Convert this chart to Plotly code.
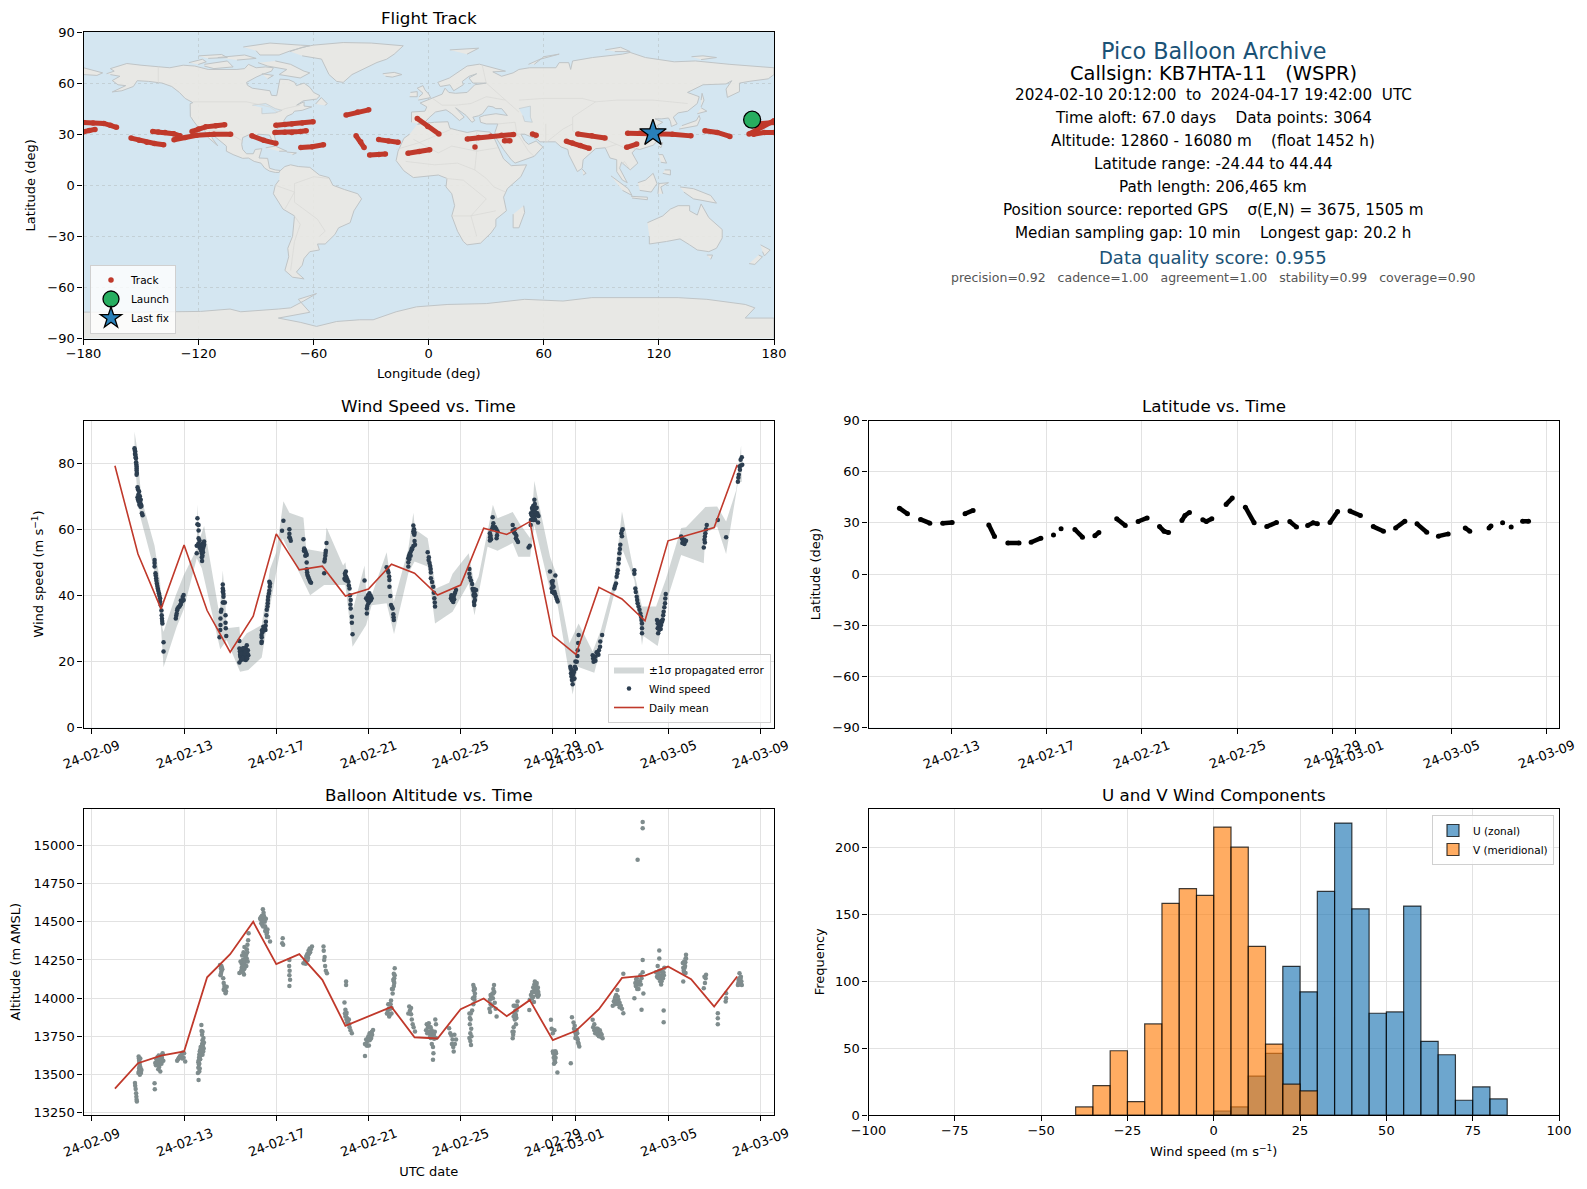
import pandas as pd
import plotly.graph_objects as go

W, H = 1571, 1173  # page body adds 8px around the plot
FONT = "DejaVu Sans"
START = pd.Timestamp("2024-02-09")

# ---- map outlines (lon, lat), read by eye
north_america = [(-168,65.5),(-164,67),(-166,68.5),(-161,70),(-157.4,71.5),(-150,70.5),(-141.8,69.6),(-135,69),(-128,70.5),(-122,70),(-115,68),(-108,68),(-100,68),(-96,68.5),(-94,71),(-90,69),(-85,69.5),(-81,69),(-82,67),(-87,65),(-90,63.5),(-95,60.4),(-94.5,58.7),(-92,57),(-88,56.5),(-82.8,55.5),(-82,52.8),(-79.3,52.6),(-79,54),(-78.4,57.5),(-78,59),(-77.6,62.3),(-73,62),(-70,60.5),(-69,58.5),(-65,60),(-62,57.5),(-60,54.5),(-56.7,52.6),(-58.5,50.6),(-65.4,49.6),(-68.9,47),(-65,49),(-65,46.5),(-61,46),(-66,44),(-70,43.5),(-71,42),(-74,40.5),(-75.5,38),(-76,35),(-78,34),(-81,31.5),(-80,27),(-80.5,25),(-82,27),(-83,29.5),(-85,29.7),(-89,30),(-90,29),(-94,29.5),(-97,28),(-97.5,24),(-97,21),(-95,18.5),(-91.5,18.5),(-90.5,21),(-87,21.5),(-88,18),(-88.5,16),(-84,15.8),(-83.5,12),(-83,10),(-80,9),(-77.5,8.7),(-78,7.5),(-80,7.5),(-83,8.3),(-85.5,10),(-87.5,13),(-91,14),(-94,16),(-97,15.8),(-102,18),(-105.5,20),(-105.5,23),(-109,26),(-112,29),(-114.5,31.5),(-112.5,27),(-110,23.2),(-112,25),(-115,28),(-117,32.5),(-120.5,34.5),(-122.5,37.5),(-124.3,40.5),(-124.4,47.9),(-123,48.5),(-127,51),(-130,54.5),(-134,58),(-139,60),(-146,61),(-152,61.4),(-154,58),(-160,55.5),(-165,54.8),(-158,58.5),(-162,59),(-165,61.5),(-161,64),(-166,65)]
baffin = [(-80,73),(-72,71),(-65,67),(-62,66),(-67,63),(-72,64),(-78,65),(-74,68),(-84,70),(-89,72)]
victoria = [(-117,71),(-105,73),(-102,69.5),(-112,68.5),(-117,70)]
banks = [(-125,72),(-118,74),(-116,72.5),(-120,71)]
ellesmere = [(-96.7,81.2),(-82.8,83.5),(-67,82.3),(-62,82),(-72,79),(-78,76.5),(-88,76.5),(-90,79)]
devon = [(-110,75),(-96,76.5),(-90,74.5),(-100,73.5)]
melville = [(-120,76),(-108,76.8),(-105,75),(-115,74.5)]
southampton = [(-87,65.5),(-81,64.5),(-84,62.5)]
newfoundland = [(-59,47.7),(-56,51.5),(-53,48),(-54,46.8)]
greenland = [(-72.4,78.5),(-66,81),(-60,82.3),(-44.6,83.8),(-30,83.5),(-13.3,81.9),(-18,77),(-22,74),(-27,72.1),(-32.4,69.2),(-40,65),(-44.6,60.4),(-48,61),(-52,65),(-54,70),(-55.9,74.1),(-66,76)]
south_america = [(-77.5,8.5),(-75,11),(-72,12),(-68,11),(-62,10.5),(-57,6),(-52,4.5),(-50,0),(-44,-2.5),(-37,-5),(-35,-8),(-39,-15),(-41,-22),(-47,-25),(-49,-29),(-54,-34.5),(-58,-34.5),(-57,-38),(-62,-39),(-65,-43),(-66,-47),(-69,-51),(-65,-55),(-71,-54),(-75,-50),(-73,-42),(-73.5,-37),(-71,-30),(-70,-18),(-76,-14),(-81,-5),(-80,0),(-78,3)]
africa = [(-6,35.8),(3,37),(10,37.3),(11,33.5),(15,32.3),(20,31),(25,32),(32,31.2),(34,28),(37,21),(39,15.5),(43,11.5),(51,12),(48,5),(41,-2),(39,-7),(40.5,-15),(35,-20),(35,-24),(32.5,-28),(27,-34),(20,-35),(18,-33),(15,-27),(12,-18),(13.5,-12),(12,-5),(9,-1),(9.5,4),(5,6),(-4,5),(-8,4.5),(-13,8.5),(-17,14.5),(-16,20),(-13,27.5),(-10,30)]
eurasia = [(-9,37),(-9,43),(-2,43.5),(-1,46),(-4.5,48.3),(2,51),(7,53.5),(8.5,57),(10.5,54.5),(14,54),(20,54.5),(24,59),(30,60),(23,60),(21,63),(25,65.5),(21,64),(17.5,61),(18,59),(13,55.5),(11,59),(6,58),(4.7,60.4),(10.8,63),(20,70),(26.4,71.1),(40,67),(33.4,66.6),(38,64),(44,66),(47,68),(52.5,69),(66.3,69),(68,72),(73,72),(74,68),(75,73),(85.4,75),(101,77),(105,78),(113,75),(128,72.5),(139,73),(157,71),(170,70),(180,69),(180,65),(177,62.5),(167,61),(162,60),(162,55),(155.7,51.6),(155,56.5),(158,61.4),(155,59.5),(143,59),(134.9,54.5),(141,52),(140,48),(135,43.5),(130,42.5),(127.5,40),(129.5,36),(126.5,34.5),(126,37.5),(125,39.5),(121.5,39),(118,39),(122,37),(119,35),(122,31),(121,28),(117,23.5),(110,21),(108,21.5),(106,19),(109,13),(105,9),(103,11),(100.5,13.5),(99.5,10),(103.5,1.5),(101,3),(98,8),(98,15),(94.5,16),(92,22),(87,21.5),(80.5,15),(80,10),(77.5,8),(73,18),(72.5,21),(69,22.5),(66,25.5),(58,25.5),(56.5,27),(50,30),(48,30),(50,26),(52,24),(56,26),(59.5,22.5),(55,17),(45,13),(43,15),(39,21),(35,28),(34.5,31),(36,36),(30,36),(27,37),(26.5,40),(29,41),(35,42),(41,41),(38,45),(35,45),(33.5,46),(31,46.5),(28,42),(26,40.8),(23,40),(24,38),(22.5,37),(19.5,41),(14,45.5),(18.5,40),(16,38),(12,42),(9,44.3),(3.5,43),(0,39.5),(-2,37),(-5.5,36)]
chukotka = [(-180,69),(-175,67.5),(-170,66),(-173,64.5),(-180,65)]
uk = [(-5.5,50),(1,51.5),(0,53.5),(-2,56),(-3,58.5),(-6,57),(-3,54),(-5,52)]
ireland = [(-10,52),(-6,52),(-6,55),(-9.5,54.5)]
iceland = [(-24,65.5),(-18,66.3),(-14,65),(-19,63.5),(-22.5,64)]
svalbard = [(11,79.5),(26,80.5),(20,77)]
novaya = [(52,71),(58,74),(68,77),(60,75.5),(55,71)]
severnaya = [(92,79.5),(100,81),(105,78.5),(97,78.5)]
new_siberian = [(137,75.5),(143,76),(150,75),(142,73.8)]
honshu = [(130.5,33),(135,34),(140,35),(141.5,39),(141,41),(139.5,38),(136,36.5),(132,35)]
hokkaido = [(140,42),(145,43.5),(142,45.5)]
sakhalin = [(142,46),(143.5,50),(142.5,54),(142,50)]
taiwan = [(120,23),(121,22),(122,25),(121,25)]
luzon = [(120,18),(122,18),(124,13),(121,13.5)]
mindanao = [(122,7),(126,6),(126,9),(123,9)]
borneo = [(109,1.5),(113,3),(117,7),(119,1),(116,-4),(110,-3)]
sumatra = [(95,5.5),(104,-2),(106,-6),(101,-3)]
java = [(105.5,-6.5),(114,-7),(114,-8.5),(106,-7.5)]
sulawesi = [(119.5,-5),(120,1),(125,1.5),(121,-1),(122,-5)]
new_guinea = [(131,-1),(138,-2),(147,-6),(150,-10.5),(143,-9),(138,-8),(133,-4)]
australia = [(114,-22),(122,-18),(126,-14),(130,-12),(136,-12),(136,-15),(140,-17.5),(142,-11),(146,-19),(153,-26),(153,-31),(150,-37),(146,-39),(140,-38),(136,-35),(131,-31.5),(124,-33),(115,-34.5),(115,-30)]
tasmania = [(145,-41),(148,-41),(147,-43.5)]
nz_north = [(173,-35),(178,-38),(175,-41.5),(174,-39)]
nz_south = [(172,-41),(174,-42),(170,-46.5),(167,-46)]
madagascar = [(49.5,-12),(50,-16),(47,-25),(44,-25),(44,-17)]
sri_lanka = [(80,9.5),(82,7),(80.5,6)]
cuba = [(-85,22),(-80,23),(-74,20),(-78,20)]
hispaniola = [(-74,19.5),(-69,19),(-71,18)]
antarctica = [(-180,-90),(-180,-74.5),(-150,-74.5),(-128,-74),(-119,-74.1),(-103.6,-72.7),(-98,-74.3),(-78.4,-72.7),(-72,-72),(-65.4,-68.1),(-58.5,-63.6),(-68,-67),(-62,-74.6),(-78.4,-78),(-67,-80.5),(-58.5,-82.9),(-48,-80),(-36,-79),(-29,-79),(-17,-74.3),(-6.4,-71.4),(10,-70),(30,-69.5),(50,-67),(70,-68),(85,-66),(110,-66),(130,-66),(145,-67),(165,-70),(170,-72),(165,-78),(180,-78),(180,-90)]
land = [north_america, baffin, victoria, banks, ellesmere, devon, melville, southampton, newfoundland, greenland, south_america, africa, eurasia, chukotka, uk, ireland, iceland, svalbard, novaya, severnaya, new_siberian, honshu, hokkaido, sakhalin, taiwan, luzon, mindanao, borneo, sumatra, java, sulawesi, new_guinea, australia, tasmania, nz_north, nz_south, madagascar, sri_lanka, cuba, hispaniola, antarctica]

caspian = [(47,45),(53,46.5),(53,40),(54,37),(50,37.5),(49,41)]
great_lakes = [(-92,47),(-85,48),(-80,45),(-76.5,44),(-80,42.5),(-84,42),(-87,42),(-87,45.5)]
lakes = [caspian, great_lakes]

borders = [
    [(-141,69.7),(-141,60)], [(-123,49),(-95,49),(-83,46),(-79,43),(-75,45),(-67,47)],
    [(-117,32.5),(-106,31.7),(-97,26)], [(-70,-18),(-67,-23),(-70,-33),(-72,-50)],
    [(-52,4),(-60,5),(-70,1),(-70,-10),(-58,-20),(-54,-27),(-57,-30)], [(-80,0),(-70,-4),(-75,-14)],
    [(-8,27),(5,19),(12,23),(25,20),(36,22)], [(25,32),(25,20),(24,9),(30,4),(34,-1),(40,-4)],
    [(-17,21),(-5,25),(12,33)], [(-12,14),(3,12),(15,13),(24,9)], [(9,4),(18,3),(30,-8),(22,-18),(25,-30)],
    [(12,-18),(22,-18),(35,-15)], [(2,51),(7,47),(14,47),(22,48),(30,52),(40,50),(47,43)],
    [(28,70),(30,60),(40,50)], [(47,50),(60,51),(80,51),(87,49),(98,50),(117,50),(135,48)],
    [(87,49),(75,40),(75,32),(80,29),(92,27),(98,24),(102,22),(108,21.5)], [(61,36),(61,25),(70,33),(75,36)],
    [(36,36),(45,37),(46,30),(48,30)], [(35,30),(47,29),(52,20),(55,17)], [(98,24),(92,22)], [(99,10),(102,14),(105,9)],
]

# ---- flight track streaks (lon, lat)
track_streaks = [
    [(-180,36.9),(-175,36.6),(-169.4,36.3),(-166,35.2),(-162.8,34)],
    [(-180,31.4),(-177,32.2),(-174,32.8)],
    [(-155.2,27.7),(-151,26.4),(-147,25.2),(-143,24.5),(-138.2,23.8)],
    [(-143.9,31.6),(-141,31.3),(-137.5,31),(-133,30.2),(-129.7,29)],
    [(-132.8,26.7),(-127,28),(-121,29.4),(-112,29.9),(-103.3,30)],
    [(-123.4,31.6),(-120,33),(-116.3,34.3),(-111,35),(-106.4,35.5)],
    [(-92.2,29),(-86,26.4),(-79.7,24.6)],
    [(-80.2,31),(-75,31.1),(-71.4,31),(-67,31.6),(-63.9,32)],
    [(-79.7,35.3),(-75,35.7),(-71.4,35.9),(-66,36.5),(-60.3,37.3)],
    [(-66.7,22.2),(-60.8,22.6),(-54.9,23.8)],
    [(-43.1,41.2),(-37,43),(-31.3,44.3)],
    [(-37.9,29),(-35.5,25.5),(-33.7,22.2)],
    [(-30.8,17.8),(-26,18),(-22.6,18.4)],
    [(-26.1,26.8),(-21,26),(-16,25.2)],
    [(-10.8,18.8),(-5,19.8),(0.5,20.9)],
    [(-6,39.2),(-0.5,34.5),(5.3,30.1)],
    [(20.1,27.2),(26,28),(32.4,28.8),(38,29.3),(44.2,29.8)],
    [(24.1,22.4)],
    [(39.5,26.2),(42.3,26.2)],
    [(54.1,30.1),(56,29.3)],
    [(71.8,25.8),(74.9,24.8),(79,23.3),(83.6,21.7)],
    [(77.7,30.1),(85,29),(91.9,27.7)],
    [(103.2,22.3),(108.4,24.2)],
    [(103.7,30.6),(110,30.6),(117.4,30.4),(127,30),(136.7,29)],
    [(144,32),(150.4,31),(157,28.7)],
    [(167,30.1),(173,34),(180,37.9)],
    [(171.6,36),(180,36.9)],
    [(169.3,30),(175,31),(180,31)],
]
launch_lon, launch_lat = [168.6], [38.5]
last_lon, last_lat = [116.9], [30.6]

# ---- daily means, one per UTC day from 2024-02-10
mean_dates = pd.date_range("2024-02-10", "2024-03-08").strftime("%Y-%m-%d").tolist()
mean_wind = [79.2, 52.5, 35.9, 55.2, 35.4, 22.8, 33.7, 58.6, 47.7, 48.8, 39.8, 41.9, 49.4, 46.7, 40.1, 43.1, 60.3, 58.4, 62.3, 27.8, 22.1, 42.4, 38.9, 32.3, 56.5, 58.6, 60.5, 79.5]
mean_alt = [13408, 13574, 13624, 13651, 14137, 14288, 14500, 14223, 14288, 14120, 13819, 13880, 13943, 13744, 13736, 13928, 13998, 13882, 13987, 13725, 13786, 13928, 14133, 14148, 14207, 14124, 13945, 14142]

# ---- wind speed samples (days after 02-09, m/s)
wind_points = [
    (1.85,84.5),(1.86,84),(1.88,83.5),(1.87,82.8),(1.89,82.5),(1.9,81.8),(1.91,81.5),(1.92,80.3),(1.93,79.6),(1.94,79),(1.94,78.4),(1.94,77.8),(1.95,77),(1.94,76.5),
    (1.98,72.7),(2.0,72),(2.05,71.4),(1.98,69.7),(2.0,69),(2.05,69.4),(2.08,70),(2.12,68.9),(2.1,67.9),(2.07,68.2),(2.13,67.4),(2.15,67),(2.17,64.8),(2.2,64.2),
    (2.72,50.7),(2.72,49.8),(2.72,48.7),(2.76,46.7),(2.77,46),(2.79,45.2),(2.8,44.4),(2.82,43.6),(2.84,42.8),(2.86,42.1),(2.88,41.4),(2.91,40.6),(2.93,39.9),(2.96,39.1),(2.96,38.1),(2.99,37),(3.02,35.4),(3.03,34),(3.04,33),(3.05,32.2),(3.06,31.5),(3.11,25.8),(3.11,23),
    (3.64,33),(3.66,33.8),(3.68,34.5),(3.7,35.5),(3.72,36),(3.76,36.4),(3.8,36.6),(3.83,37),(3.86,37.4),(3.86,38.4),(3.9,38.1),(3.95,38.4),(3.98,38.6),(3.98,40.1),(3.94,39.5),
    (4.58,63.3),(4.58,61.5),(4.63,61.3),(4.63,59.6),(4.63,57.3),(4.67,56.6),(4.55,55),(4.65,55),(4.7,55.3),(4.77,54.5),(4.8,55.6),(4.87,56.3),(4.87,55.3),(4.83,54.4),(4.81,53.7),(4.77,52.7),(4.74,53.5),(4.55,52.7),(4.77,51.5),(4.8,52),
    (5.68,43.3),(5.68,42.1),(5.7,41.4),(5.68,41.1),(5.71,40.4),(5.71,39.6),(5.68,37.8),(5.77,37.8),(5.72,37.8),(5.62,35.6),(5.6,35),(5.8,34),(5.58,33),(5.8,31.7),(5.58,31),(5.81,30),(5.57,29.5),(5.83,27.7),(5.54,27.3),
    (6.4,26.2),(6.4,23.9),(6.42,23),(6.46,22.4),(6.4,19.7),(6.5,20.9),(6.44,21.4),(6.55,22),(6.65,21.4),(6.58,23.2),(6.72,24.9),(6.68,24),(6.77,23.4),(6.7,22.6),(6.79,21.9),(6.68,20.4),(6.6,20.6),(6.47,20.4),(6.52,23.4),(6.75,22.4),
    (7.37,26),(7.37,27.3),(7.36,28),(7.4,28.8),(7.43,29.5),(7.48,29.8),(7.53,29.5),(7.54,30.8),(7.55,32),(7.57,34),(7.59,35.6),(7.62,36.6),(7.63,37.6),(7.64,38.6),(7.65,39.6),(7.68,40.5),(7.7,41.4),(7.73,43.6),(7.7,44.1),(7.72,42.6),
    (8.31,62.6),(8.25,59.5),(8.57,60),(8.57,58.6),(8.57,57.6),(8.6,57.3),(8.63,56.5),
    (9.18,57),(9.21,54.2),(9.24,53.7),(9.27,53.2),(9.3,52.6),(9.32,52.2),(9.32,49.9),(9.32,47.9),(9.34,47),(9.35,46.2),(9.38,45.7),(9.41,45.2),(9.44,44.6),(9.47,44.1),(9.51,43.8),
    (10.18,55.8),(10.15,53.5),(10.14,52.8),(10.13,52),(10.11,51),(10.09,50.2),(10.08,46.7),
    (11.02,47.2),(11.0,46),(11.03,45.6),(11.06,45.2),(11.09,44.6),(10.96,45),(11.13,44.1),(11.15,43),(11.18,42.1),(11.2,40),(11.23,38.6),(11.22,37.2),(11.23,36),(11.28,33.5),(11.28,31.7),(11.31,28.2),
    (11.83,44.5),(11.9,39.1),(11.98,40),(12.04,40.6),(12.1,39.8),(12.14,39.1),(12.05,38.2),(12.0,37.6),(11.95,36.8),(11.93,36),(11.93,34.5),(12.08,38.6),
    (12.79,48.5),(12.84,47.6),(12.87,46.9),(12.9,45.7),(12.91,44.6),(12.91,42.6),(12.95,39.8),(12.98,37.1),(13.02,36.5),(13.05,36),(13.08,34.3),(13.09,33.4),(13.1,32.5),
    (13.95,61.1),(13.95,59.3),(13.97,58.8),(13.99,58.3),(14.02,55.3),(14.0,56.4),(13.95,54.9),(13.88,54.2),(13.85,53.4),(13.8,52.7),(13.76,52),(13.73,51.2),(13.73,50),(13.73,48.7),
    (14.57,53),(14.61,50.7),(14.65,49.8),(14.68,48.9),(14.7,48),(14.71,46.9),(14.71,45.2),(14.76,44),(14.81,42.6),(14.84,40.8),(14.86,39.1),(14.89,36.6),(14.88,37.8),
    (15.58,39.1),(15.62,38.6),(15.65,38.4),(15.68,39.4),(15.72,40.1),(15.76,40.8),(15.8,41.6),
    (16.38,48),(16.38,46.5),(16.4,45.4),(16.45,44.5),(16.5,43.4),(16.52,42),(16.6,41.8),(16.67,41.6),(16.56,40.1),(16.6,39.6),(16.62,38.6),(16.59,37.1),
    (17.39,63.6),(17.42,61.8),(17.4,60.8),(17.27,58.8),(17.28,57.6),(17.27,56.6),(17.5,60.6),(17.55,60),(17.6,59.3),(17.56,57.3),
    (18.26,61.3),(18.26,59.6),(18.32,59),(18.37,58.6),(18.4,57.3),(18.45,56.7),(18.49,56.1),
    (18.95,54.5),(19.0,55),(19.2,68.9),(19.22,67.6),(19.15,67),(19.2,66.8),(19.12,65.8),(19.05,64.8),(19.3,66.5),(19.33,64.8),(19.38,64),(19.25,65),(19.1,66.4),(19.04,61.3),(19.05,62.8),(19.36,62),
    (19.88,47.2),(20.11,46),(19.95,44.1),(19.98,43.4),(19.95,42.1),(20.03,42.6),(20.07,41.1),(20.1,40.4),(20.14,39.6),(20.18,38.8),(20.21,38.1),
    (20.76,18.4),(20.96,18.4),(20.79,16.4),(20.81,15.4),(20.83,14.4),(20.86,13.1),(20.9,14.6),(20.85,17),(20.98,20),(21.0,17.8),(21.04,19.9),(21.07,21.6),(21.08,23.4),(21.1,25.6),(21.12,28),
    (21.73,21.9),(21.75,20.9),(21.77,19.9),(21.85,21.4),(21.95,22.4),(22.0,23.4),(22.05,24.4),(22.06,26),(22.14,28),
    (22.67,42.1),(22.7,42.8),(22.74,43.6),(22.77,45.6),(22.8,46.6),(22.82,47.6),(22.85,49.6),(22.87,51),(22.89,52.7),(22.91,54),(22.93,55.3),(22.97,58.8),(23.0,59.6),(23.03,60),(23.0,57.9),
    (23.54,47.6),(23.54,46.5),(23.58,42.1),(23.6,41),(23.64,39.6),(23.66,38.6),(23.68,37.6),(23.72,36.6),(23.76,35.6),(23.8,34.5),(23.83,33.5),(23.85,32.5),(23.87,31.5),(23.87,30),(23.87,28.5),
    (24.52,32.5),(24.55,31.5),(24.6,30.5),(24.57,28.5),(24.65,30.8),(24.7,31),(24.74,32),(24.77,32.7),(24.79,34),(24.81,35),(24.84,36.4),(24.87,37.6),(24.88,39),(24.9,40.4),
    (25.57,57.8),(25.6,57.2),(25.64,56.8),(25.67,56),(25.71,55.5),(25.74,56.2),(25.78,56.5),
    (26.55,54.5),(26.58,56.8),(26.6,57.8),(26.62,58.8),(26.65,60),(26.68,61.3),(27.16,62.8),(27.52,57.6),
    (28.03,74.4),(28.05,75.6),(28.07,76.5),(28.1,79),(28.15,79.2),(28.2,81.8),(28.22,79.5),
    # thicker parts of the clumps
    (2.02,70.5),(2.06,67.4),(2.11,66.8),(2.03,68.4),(4.68,54.4),(4.72,54),(4.75,55.2),(4.85,55),(4.62,55.6),(4.78,50.4),(4.82,53),
    (6.48,23),(6.43,22),(6.5,22.4),(6.55,20.8),(6.62,22.4),(6.6,24),(6.65,23),(6.72,21),(6.74,20.9),(6.45,23.6),(6.56,24),
    (7.44,30.5),(7.38,29.4),(7.5,30),(7.36,25.6),(9.2,53.5),(9.26,52),(10.98,46.6),(11.04,44.5),(11.0,44.6),(11.96,38.5),(12.02,39),(12.06,39.7),(12.1,38.5),
    (13.9,54),(13.83,52),(13.78,51),(13.98,60),(14.0,59),(14.62,51.5),(15.62,39.6),(15.68,38),(15.72,38.8),(15.6,40),
    (16.55,41.4),(16.6,40.6),(16.64,40),(16.58,38),(17.35,60),(17.3,58),(17.32,57),(17.58,58.2),(18.35,60),(18.42,58),
    (19.12,64.8),(19.15,65.2),(19.18,64.3),(19.22,65.3),(19.26,66.3),(19.28,64.2),(19.2,63.5),(19.16,62.8),(19.24,62.8),(19.12,63.2),(19.08,64.2),
    (20.0,44.3),(20.0,42.6),(19.97,41),(20.05,40.6),(20.82,17.4),(20.88,16),(20.92,16.8),(20.78,17.8),(20.94,14.8),
    (21.8,21.5),(21.9,22.8),(21.85,20.2),(21.98,22),(24.55,30),(24.62,29.6),(24.68,29.8),(24.72,32.2),(24.6,32),(25.62,55.8),(25.7,56.8),(26.6,56),(28.15,81),(28.12,78),
]

# ---- +/- 1 sigma band edges (days after 02-09, m/s)
band_upper = [(1.85,89.5),(1.95,85),(2.1,73),(2.2,68),(2.72,55),(2.96,44),(3.06,30),(3.11,29),(3.64,40),(3.9,45),(3.98,46),(4.55,54),(4.58,67.5),(4.67,57),(4.87,61),(5.54,34),(5.68,47.5),(5.8,37),(5.85,30),(6.4,30.5),(6.45,26),(6.72,28.5),(7.37,31),(7.73,48),(8.0,53),(8.31,68.5),(8.57,65),(9.18,63.5),(9.3,54),(10.1,53),(10.18,60.5),(10.9,49),(11.0,50),(11.3,35),(11.83,49),(11.93,38),(12.14,40),(12.79,53),(12.95,45),(13.1,38),(13.73,54),(13.95,65),(14.02,60),(14.57,57.3),(14.93,42.1),(15.5,43.8),(15.65,46.5),(16.35,52.7),(16.6,43.1),(16.78,45.7),(17.4,67.4),(17.6,63.3),(18.26,65.2),(18.55,61.8),(19.02,57.3),(19.2,74.6),(19.42,66.9),(19.88,51.7),(20.14,46.7),(20.72,25.5),(21.12,31.5),(21.73,23),(22.09,29.6),(22.67,44.6),(23,65.4),(23.47,48.7),(23.87,36.6),(24.48,36.6),(24.9,44.8),(25.57,60.4),(25.78,60.6),(26.62,66.7),(27.13,66.9),(27.52,62.3),(27.96,71.9),(28.17,85.3)]
band_lower = [(1.85,82),(1.95,73),(2.1,63.8),(2.67,48.7),(2.96,34.5),(3.11,18.2),(3.68,30.5),(3.98,35.6),(4.55,51.2),(4.77,48.2),(5.57,23.7),(5.85,26.5),(6.43,16.9),(6.79,17.4),(7.37,21.2),(7.73,36.6),(8.02,47.7),(8.28,57.3),(9.47,40),(10.08,43.1),(11,43.1),(11.31,24.4),(11.9,31),(12.14,37),(12.79,37.6),(13.11,28.3),(13.73,46.7),(14,50.2),(14.57,48.7),(14.89,31.5),(15.65,35),(16.35,43.6),(16.6,34),(17.17,54.7),(17.6,53.5),(18.26,55.8),(18.5,51.7),(19.02,51.7),(19.2,61.3),(19.88,41.6),(20.21,37),(20.86,10),(21.08,18.4),(21.8,16.6),(22.09,24.4),(22.67,40.6),(23.03,53.7),(23.54,44.6),(23.87,24.9),(23.93,27.7),(24.55,24.7),(25,39.6),(25.57,52.2),(26.55,49.7),(26.62,58.8),(27.13,60.8),(27.52,52.5),(28.03,74),(28.2,74.4)]

# ---- latitude streaks (days after 02-09, deg)
lat_streaks = [
    [(1.8,38.6),(2.14,35.3)],[(2.69,32),(3.08,29.8)],[(3.62,29.8),(4.02,30.2)],[(4.56,35.3),(4.9,37.3)],
    [(5.56,28.8),(5.8,22)],[(6.36,18.2),(6.83,18.2)],[(7.34,18.6),(7.75,21)],[(8.28,22.9)],[(8.6,26.5)],
    [(9.18,26.1),(9.5,21.6)],[(10.02,22.4),(10.19,24.3)],[(10.94,32.4),(11.3,28.4)],[(11.84,30.8),(12.22,32.9)],
    [(12.74,27.8),(12.93,25.1),(13.12,24.3)],[(13.68,31.4),(13.81,34.3),(14,36.1)],[(14.56,31.8),(14.71,30.8),(14.94,32.4)],
    [(15.54,40.8),(15.8,44.5)],[(16.35,39.2),(16.72,30)],[(17.25,27.8),(17.66,30.2)],[(18.22,30.8),(18.5,27.5)],
    [(18.97,28.4),(19.2,30),(19.38,29.4)],[(19.91,30.2),(20.23,36.7)],[(20.75,36.9),(21.19,34.3)],[(21.73,27.8),(22.16,25.1)],
    [(22.67,27),(23.06,31)],[(23.57,29.4),(23.98,24.5)],[(24.47,22.2),(24.88,23.5)],[(25.6,26.9),(25.79,25.1)],
    [(26.6,27),(26.68,28.2)],[(27.17,30)],[(27.53,27.5)],[(28.01,31),(28.26,31)],
]

# ---- altitude samples (days after 02-09, m)
alt_points = [
    (1.87,13445),(1.88,13426),(1.9,13405),(1.92,13378),(1.93,13355),(1.94,13335),(1.95,13323),(2.03,13618),(2.05,13590),(2.07,13565),(2.05,13540),(2.1,13550),(2.12,13520),(2.02,13510),(2.08,13498),(2.15,13530),(2.04,13605),(2.06,13575),
    (2.72,13443),(2.73,13404),(2.75,13575),(2.78,13560),(2.8,13600),(2.85,13615),(2.9,13625),(2.95,13590),(3.0,13600),(3.05,13630),(3.07,13640),(2.92,13550),(2.97,13520),(2.88,13535),(3.02,13570),(3.1,13590),(2.83,13580),(2.93,13605),
    (3.7,13590),(3.74,13600),(3.78,13610),(3.82,13620),(3.86,13625),(3.9,13630),(3.95,13645),(4.0,13640),(4.05,13585),(3.98,13610),(3.92,13605),
    (4.63,13465),(4.6,13510),(4.62,13545),(4.64,13565),(4.63,13590),(4.65,13610),(4.66,13630),(4.68,13650),(4.7,13660),(4.72,13680),(4.8,13630),(4.83,13650),(4.85,13670),(4.78,13700),(4.8,13725),(4.84,13740),(4.78,13760),(4.76,13785),(4.75,13825),
    (5.56,14218),(5.6,14195),(5.62,14175),(5.66,14190),(5.58,14150),(5.7,14130),(5.72,14100),(5.75,14080),(5.78,14060),(5.8,14033),(5.85,14075),(5.72,14055),
    (6.4,14165),(6.5,14225),(6.55,14250),(6.6,14230),(6.65,14270),(6.7,14290),(6.72,14320),(6.75,14350),(6.8,14425),(6.78,14380),(6.52,14280),(6.58,14300),(6.62,14335),(6.68,14240),(6.6,14155),(6.5,14200),(6.45,14240),(6.7,14210),
    (7.3,14520),(7.35,14490),(7.38,14540),(7.42,14583),(7.45,14560),(7.48,14530),(7.5,14500),(7.52,14470),(7.56,14450),(7.6,14430),(7.65,14400),(7.73,14371),(7.55,14520),(7.4,14510),(7.62,14450),
    (8.28,14393),(8.26,14360),(8.3,14349),(8.57,14250),(8.56,14210),(8.58,14180),(8.57,14150),(8.6,14120),(8.57,14080),
    (9.18,14229),(9.25,14250),(9.3,14270),(9.35,14290),(9.4,14310),(9.45,14325),(9.55,14338),(9.38,14265),(9.3,14240),
    (10.05,14338),(10.06,14310),(10.1,14270),(10.08,14250),(10.12,14210),(10.15,14180),(10.2,14164),
    (11.03,14109),(11.03,14087),(10.96,13971),(11.0,13925),(11.03,13895),(11.07,13870),(11.1,13850),(11.13,13830),(11.18,13810),(11.28,13770),(11.05,13905),(11.15,13860),(11.22,13790),
    (11.85,13622),(11.85,13700),(11.9,13730),(11.95,13720),(12.0,13750),(12.05,13770),(12.1,13760),(12.15,13780),(12.2,13792),(11.92,13690),(12.02,13690),
    (12.8,13900),(12.84,13920),(12.9,13880),(12.86,13960),(12.94,13930),(12.98,13985),(13.05,14030),(13.02,14060),(13.1,14080),(13.1,14110),(13.12,14130),(13.1,14160),(13.14,14196),(13.0,13900),
    (13.73,13900),(13.77,13945),(13.8,13920),(13.85,13895),(13.88,13860),(13.92,13830),(13.96,13810),(14.02,13782),(13.85,13935),
    (14.5,13790),(14.53,13830),(14.58,13810),(14.62,13836),(14.65,13770),(14.7,13740),(14.72,13760),(14.75,13700),(14.78,13750),(14.8,13680),(14.82,13640),(14.8,13596),(14.85,13735),(14.93,13740),(14.55,13770),(14.6,13780),(14.7,13780),(14.9,13860),(14.93,13830),
    (15.5,13803),(15.55,13770),(15.6,13755),(15.65,13730),(15.62,13700),(15.68,13680),(15.7,13650),(15.75,13700),(15.8,13730),(15.73,13760),
    (16.38,13900),(16.4,13830),(16.42,13770),(16.38,13740),(16.45,13694),(16.46,13800),(16.43,13860),(16.5,13920),(16.55,14087),(16.57,14050),(16.6,14010),(16.55,13960),(16.6,13990),(16.62,14030),
    (17.25,13930),(17.27,13990),(17.32,14010),(17.38,14030),(17.42,14060),(17.45,14087),(17.4,14000),(17.48,13970),(17.52,13930),(17.56,13880),(17.3,13960),
    (18.26,13738),(18.25,13780),(18.3,13810),(18.35,13860),(18.4,13890),(18.43,13920),(18.47,13978),(18.36,13950),(18.3,13950),(18.4,13830),
    (18.98,13923),(19.0,13990),(19.05,14020),(19.1,14000),(19.15,14040),(19.2,14060),(19.22,14109),(19.28,14090),(19.33,14060),(19.37,14040),(19.39,14020),(19.3,14020),(19.18,13975),
    (19.92,13858),(19.95,13800),(20.0,13770),(20.07,13790),(20.0,13650),(20.07,13630),(20.12,13610),(20.08,13590),(20.14,13640),(20.05,13570),(20.2,13513),
    (20.78,13574),(20.83,13875),(20.9,13840),(20.92,13800),(20.95,13780),(21.0,13760),(21.05,13740),(21.1,13710),(21.15,13683),(21.03,13790),
    (21.73,13858),(21.75,13810),(21.8,13790),(21.85,13800),(21.9,13770),(21.95,13800),(22.0,13780),(22.05,13760),(22.1,13745),(22.16,13738),
    (22.6,13950),(22.65,13980),(22.7,14000),(22.75,14020),(22.8,14054),(22.85,13990),(22.9,13970),(22.95,13950),(23.0,13930),(23.06,13902),(23.06,14160),
    (23.54,14000),(23.58,14100),(23.62,14120),(23.68,14090),(23.72,14060),(23.78,14110),(23.85,14130),(23.9,14170),(23.9,14250),(23.93,14030),(23.85,13925),(23.68,14906),(23.9,15153),(23.9,15113),
    (24.48,14170),(24.52,14140),(24.58,14130),(24.62,14180),(24.66,14110),(24.7,14090),(24.75,14130),(24.8,14170),(24.84,14200),(24.62,14312),(24.62,14260),(24.81,13919),(24.81,13843),(24.55,14210),
    (25.64,14230),(25.66,14109),(25.68,14180),(25.72,14200),(25.75,14235),(25.78,14284),(25.78,14260),(25.76,14165),
    (26.55,14065),(26.6,14100),(26.63,14130),(26.65,14153),(26.58,14140),
    (27.16,13902),(27.16,13868),(27.16,13830),(27.52,14033),(27.52,14000),(27.5,13978),
    (28.03,14087),(28.06,14120),(28.1,14164),(28.14,14130),(28.2,14087),(28.08,14090),(28.18,14110),
    # thicker parts of the clumps
    (2.06,13550),(2.09,13525),(2.11,13540),(2.04,13520),(2.13,13510),(2.1,13605),(2.86,13590),(2.9,13575),(2.94,13570),(2.98,13610),(3.04,13610),(2.87,13605),(2.99,13580),(3.03,13590),
    (4.69,13620),(4.72,13640),(4.74,13660),(4.7,13600),(4.66,13570),(4.62,13580),(4.66,13520),(4.68,13540),(4.83,13700),(4.82,13680),(4.86,13710),(4.8,13780),
    (5.6,14160),(5.62,14210),(5.64,14200),(5.74,14060),(5.76,14050),(5.82,14045),
    (6.52,14200),(6.56,14215),(6.6,14190),(6.64,14240),(6.68,14280),(6.72,14260),(6.74,14300),(6.76,14240),(6.48,14180),(6.55,14170),(6.63,14200),
    (7.33,14530),(7.36,14510),(7.39,14480),(7.42,14510),(7.44,14530),(7.46,14540),(7.47,14510),(7.5,14470),(7.52,14440),(7.43,14470),(7.58,14420),(7.6,14400),
    (9.32,14280),(9.36,14250),(9.42,14290),(9.47,14300),(9.5,14320),(9.28,14225),(11.0,13880),(11.05,13860),(11.08,13840),(11.12,13855),(11.16,13830),(10.98,13900),
    (11.96,13690),(11.98,13740),(12.04,13725),(12.08,13730),(12.12,13740),(12.16,13760),(11.88,13700),
    (12.85,13900),(12.88,13930),(12.92,13890),(12.9,13960),(12.96,13960),(13.0,13935),(13.06,14060),(13.08,14120),(13.12,14100),(13.14,14150),
    (14.62,13780),(14.66,13810),(14.7,13810),(14.74,13790),(14.76,13770),(14.8,13780),(14.84,13760),(14.88,13780),(14.68,13750),
    (16.4,13870),(16.44,13900),(16.47,13750),(16.42,13720),(16.53,14000),(16.58,14070),(16.62,14060),(17.3,14020),(17.35,14000),(17.42,14030),(17.46,14040),(17.36,13950),(17.28,13910),
    (18.3,13880),(18.34,13900),(18.38,13920),(18.42,13870),(18.44,13950),(18.28,13760),(18.3,13780),
    (19.1,14040),(19.15,14070),(19.2,14090),(19.25,14080),(19.3,14060),(19.35,14070),(19.25,14040),(19.15,14010),(19.3,14100),(19.35,14010),
    (20.02,13640),(20.1,13650),(20.04,13610),(20.1,13580),(20.12,13650),(20.95,13820),(21.02,13770),(21.06,13770),(21.08,13730),(21.12,13700),(20.98,13740),
    (21.8,13830),(21.84,13770),(21.9,13800),(21.95,13760),(22.0,13750),(22.04,13790),(22.08,13770),(22.12,13760),
    (22.7,13960),(22.74,13990),(22.78,13970),(22.84,13960),(22.9,13940),(22.72,14010),(22.82,14010),(23.6,14080),(23.66,14060),(23.7,14100),(23.75,14090),(23.8,14150),(23.82,14090),(23.64,14130),
    (24.55,14160),(24.6,14150),(24.65,14140),(24.7,14150),(24.72,14110),(24.78,14130),(24.82,14150),(24.68,14180),(24.76,14170),(25.66,14200),(25.7,14170),(25.74,14210),(25.7,14240),(25.76,14260),
    (28.05,14100),(28.12,14100),(28.16,14140),(28.1,14130),
]

# ---- histogram counts, 5 m/s bins
u_bin_centers = [2.5, 7.5, 12.5, 17.5, 22.5, 27.5, 32.5, 37.5, 42.5, 47.5, 52.5, 57.5, 62.5, 67.5, 72.5, 77.5, 82.5]
u_counts = [3, 6, 29, 46, 111, 92, 167, 218, 154, 76, 77, 156, 55, 45, 11, 21, 12]
v_bin_centers = [-37.5, -32.5, -27.5, -22.5, -17.5, -12.5, -7.5, -2.5, 2.5, 7.5, 12.5, 17.5, 22.5, 27.5]
v_counts = [6, 22, 48, 10, 68, 158, 169, 164, 215, 200, 126, 53, 23, 18]

# ---- axis labels
date_ticks = ["2024-02-09", "2024-02-13", "2024-02-17", "2024-02-21", "2024-02-25", "2024-02-29", "2024-03-01", "2024-03-05", "2024-03-09"]
date_ticktext = ["24-02-09", "24-02-13", "24-02-17", "24-02-21", "24-02-25", "24-02-29", "24-03-01", "24-03-05", "24-03-09"]
lon_ticks = [-180, -120, -60, 0, 60, 120, 180]
lat_ticks = [-90, -60, -30, 0, 30, 60, 90]
info_lines = [
    ("Pico Balloon Archive", 22.3, "#1a5276", 51),
    ("Callsign: KB7HTA-11   (WSPR)", 19.4, "#000000", 74),
    ("2024-02-10 20:12:00  to  2024-04-17 19:42:00  UTC", 15.2, "#000000", 95),
    ("Time aloft: 67.0 days    Data points: 3064", 15.2, "#000000", 118),
    ("Altitude: 12860 - 16080 m    (float 1452 h)", 15.2, "#000000", 141),
    ("Latitude range: -24.44 to 44.44", 15.2, "#000000", 164),
    ("Path length: 206,465 km", 15.2, "#000000", 187),
    ("Position source: reported GPS    σ(E,N) = 3675, 1505 m", 15.2, "#000000", 210),
    ("Median sampling gap: 10 min    Longest gap: 20.2 h", 15.2, "#000000", 233),
    ("Data quality score: 0.955", 18, "#1a5276", 258),
    ("precision=0.92   cadence=1.00   agreement=1.00   stability=0.99   coverage=0.90", 12.5, "#555555", 278),
]


def px(x):
    return (x - 8) / W


def py(y):
    return 1 - (y - 8) / H


def to_date(d):
    if d is None:
        return None
    return (START + pd.Timedelta(days=d)).strftime("%Y-%m-%d %H:%M")


def flat(shapes):
    xs, ys = [], []
    for s in shapes:
        xs += [p[0] for p in s] + [None]
        ys += [p[1] for p in s] + [None]
    return xs, ys


LEFT = (83.5, 774)
RIGHT = (868.5, 1559)
ROW1 = (32, 338.5)
ROW2 = (420.5, 727.5)
ROW3 = (808.5, 1115)
GRID = "#e2e2e2"
TICKFONT = dict(family=FONT, size=13, color="black")


def axis(span, **kw):
    d = dict(domain=[px(span[0]), px(span[1])], showline=True, mirror=True, linecolor="black", linewidth=1.2,
             ticks="outside", ticklen=5, tickwidth=1, tickcolor="black", gridcolor=GRID, gridwidth=1,
             zeroline=False, automargin=False, tickfont=TICKFONT, title_font=dict(family=FONT, size=13, color="black"))
    d.update(kw)
    return d


def yaxis_(span, **kw):
    d = axis((0, 0), **kw)
    d["domain"] = [py(span[1]), py(span[0])]
    return d


fig = go.Figure()

# flight track map
lx, ly = flat(land)
fig.add_trace(go.Scatter(x=lx, y=ly, mode="lines", fill="toself", fillcolor="rgba(234,232,227,0.9)", line=dict(color="#bfc4c6", width=1), showlegend=False, hoverinfo="skip", xaxis="x", yaxis="y"))
wx, wy = flat(lakes)
fig.add_trace(go.Scatter(x=wx, y=wy, mode="lines", fill="toself", fillcolor="#d4e6f1", line=dict(color="#bfc4c6", width=0.6), showlegend=False, hoverinfo="skip", xaxis="x", yaxis="y"))
bx, by = flat(borders)
fig.add_trace(go.Scatter(x=bx, y=by, mode="lines", line=dict(color="#d8d9d6", width=0.7), showlegend=False, hoverinfo="skip", xaxis="x", yaxis="y"))
tx, ty = flat(track_streaks)
fig.add_trace(go.Scatter(x=tx, y=ty, mode="lines", line=dict(color="#c0392b", width=5), showlegend=False, xaxis="x", yaxis="y"))
fig.add_trace(go.Scatter(x=tx, y=ty, mode="markers", marker=dict(color="#c0392b", size=5.5), name="Track", legend="legend", xaxis="x", yaxis="y"))
fig.add_trace(go.Scatter(x=launch_lon, y=launch_lat, mode="markers", marker=dict(color="#27ae60", size=17, line=dict(color="black", width=1.3)), name="Launch", legend="legend", xaxis="x", yaxis="y"))
fig.add_trace(go.Scatter(x=last_lon, y=last_lat, mode="markers", marker=dict(color="#2980b9", size=20, symbol="star", line=dict(color="black", width=1.3)), name="Last fix", legend="legend", xaxis="x", yaxis="y"))

# wind speed
band_x = [to_date(p[0]) for p in band_upper] + [to_date(p[0]) for p in reversed(band_lower)]
band_y = [p[1] for p in band_upper] + [p[1] for p in reversed(band_lower)]
fig.add_trace(go.Scatter(x=band_x, y=band_y, mode="lines", fill="toself", fillcolor="rgba(127,140,141,0.35)", line=dict(width=0), name="±1σ propagated error", legend="legend2", xaxis="x2", yaxis="y2"))
fig.add_trace(go.Scatter(x=[to_date(p[0]) for p in wind_points], y=[p[1] for p in wind_points], mode="markers", marker=dict(color="#2c3e50", size=4.5), name="Wind speed", legend="legend2", xaxis="x2", yaxis="y2"))
fig.add_trace(go.Scatter(x=mean_dates, y=mean_wind, mode="lines", line=dict(color="#c0392b", width=1.6), name="Daily mean", legend="legend2", xaxis="x2", yaxis="y2"))

# latitude
ld, lv = flat(lat_streaks)
ld = [to_date(d) for d in ld]
fig.add_trace(go.Scatter(x=ld, y=lv, mode="lines+markers", line=dict(color="black", width=4.5), marker=dict(color="black", size=5), showlegend=False, xaxis="x3", yaxis="y3"))

# altitude
fig.add_trace(go.Scatter(x=[to_date(p[0]) for p in alt_points], y=[p[1] for p in alt_points], mode="markers", marker=dict(color="#7f8c8d", size=4.5), showlegend=False, xaxis="x4", yaxis="y4"))
fig.add_trace(go.Scatter(x=mean_dates, y=mean_alt, mode="lines", line=dict(color="#c0392b", width=1.8), showlegend=False, xaxis="x4", yaxis="y4"))

# histogram
fig.add_trace(go.Bar(x=u_bin_centers, y=u_counts, width=5, name="U (zonal)", marker=dict(color="rgba(31,119,180,0.65)", line=dict(color="rgba(0,0,0,0.75)", width=1.2)), legend="legend3", xaxis="x5", yaxis="y5"))
fig.add_trace(go.Bar(x=v_bin_centers, y=v_counts, width=5, name="V (meridional)", marker=dict(color="rgba(255,127,14,0.65)", line=dict(color="rgba(0,0,0,0.75)", width=1.2)), legend="legend3", xaxis="x5", yaxis="y5"))

legend_base = dict(bgcolor="rgba(255,255,255,0.8)", bordercolor="#d0d0d0", borderwidth=1, font=dict(family=FONT, size=10.5, color="black"), tracegroupgap=0, itemwidth=30)

wind_range = ["2024-02-08 15:16", "2024-03-09 14:20"]
lat_range = ["2024-02-09 12:00", "2024-03-09 13:00"]
MAP_GRID = "#c3d0d6"

fig.update_layout(
    width=W, height=H, margin=dict(l=0, r=0, t=0, b=0), paper_bgcolor="white", plot_bgcolor="#d4e6f1",
    font=dict(family=FONT, color="black"), barmode="overlay", hovermode=False,
    xaxis=axis(LEFT, range=[-180, 180], tickvals=lon_ticks, ticklabelstandoff=-2, title=dict(text="Longitude (deg)", standoff=8), griddash="dot", gridcolor=MAP_GRID, anchor="y"),
    yaxis=yaxis_(ROW1, range=[-90, 90], tickvals=lat_ticks, title=dict(text="Latitude (deg)", standoff=8), griddash="dot", gridcolor=MAP_GRID, anchor="x"),
    xaxis2=axis(LEFT, type="date", range=wind_range, tickvals=date_ticks, showticklabels=False, anchor="y2"),
    yaxis2=yaxis_(ROW2, range=[0, 92.9], tickvals=[0, 20, 40, 60, 80], title=dict(text="Wind speed (m s<sup>−1</sup>)", standoff=11), anchor="x2"),
    xaxis3=axis(RIGHT, type="date", range=lat_range, tickvals=date_ticks[1:], showticklabels=False, anchor="y3"),
    yaxis3=yaxis_(ROW2, range=[-90, 90], tickvals=lat_ticks, title=dict(text="Latitude (deg)", standoff=8), anchor="x3"),
    xaxis4=axis(LEFT, type="date", range=wind_range, tickvals=date_ticks, showticklabels=False, title=dict(text="UTC date", standoff=46), anchor="y4"),
    yaxis4=yaxis_(ROW3, range=[13235, 15242], tickvals=[13250, 13500, 13750, 14000, 14250, 14500, 14750, 15000], tickformat="d", title=dict(text="Altitude (m AMSL)", standoff=9), anchor="x4"),
    xaxis5=axis(RIGHT, range=[-100, 100], tickvals=[-100, -75, -50, -25, 0, 25, 50, 75, 100], ticklabelstandoff=-2, title=dict(text="Wind speed (m s<sup>−1</sup>)", standoff=10), anchor="y5"),
    yaxis5=yaxis_(ROW3, range=[0, 228.9], tickvals=[0, 50, 100, 150, 200], title=dict(text="Frequency", standoff=7), anchor="x5"),
    legend=dict(legend_base, x=px(90), y=py(333.5), xanchor="left", yanchor="bottom"),
    legend2=dict(legend_base, x=px(771), y=py(723), xanchor="right", yanchor="bottom"),
    legend3=dict(legend_base, x=px(1554), y=py(815), xanchor="right", yanchor="top"),
)

# only the map has a blue plot area: the others get a white rectangle behind their traces
for xspan, yspan in [(LEFT, ROW2), (RIGHT, ROW2), (LEFT, ROW3), (RIGHT, ROW3)]:
    fig.add_shape(type="rect", xref="paper", yref="paper", x0=px(xspan[0]), x1=px(xspan[1]), y0=py(yspan[1]), y1=py(yspan[0]), fillcolor="white", line_width=0, layer="below")

titles = [("Flight Track", sum(LEFT) / 2, 18), ("Wind Speed vs. Time", sum(LEFT) / 2, 406), ("Latitude vs. Time", sum(RIGHT) / 2, 406),
          ("Balloon Altitude vs. Time", sum(LEFT) / 2, 795), ("U and V Wind Components", sum(RIGHT) / 2, 795)]
for text, x, y in titles:
    fig.add_annotation(text=text, x=px(x), y=py(y), xref="paper", yref="paper", showarrow=False, font=dict(family=FONT, size=16.7, color="black"), xanchor="center", yanchor="middle")
for text, size, color, y in info_lines:
    fig.add_annotation(text=text, x=px(1213), y=py(y), xref="paper", yref="paper", showarrow=False, font=dict(family=FONT, size=size, color=color), xanchor="center", yanchor="middle")

# rotated date labels are annotations so they stay centred on their ticks
for axname, row, ticks, labels in [("x2", ROW2, date_ticks, date_ticktext), ("x3", ROW2, date_ticks[1:], date_ticktext[1:]), ("x4", ROW3, date_ticks, date_ticktext)]:
    for t, lab in zip(ticks, labels):
        fig.add_annotation(text=lab, x=t, xref=axname, y=py(row[1] + 27), yref="paper", showarrow=False, textangle=-20, font=TICKFONT, xanchor="center", yanchor="middle")

fig.write_html("out.html")
